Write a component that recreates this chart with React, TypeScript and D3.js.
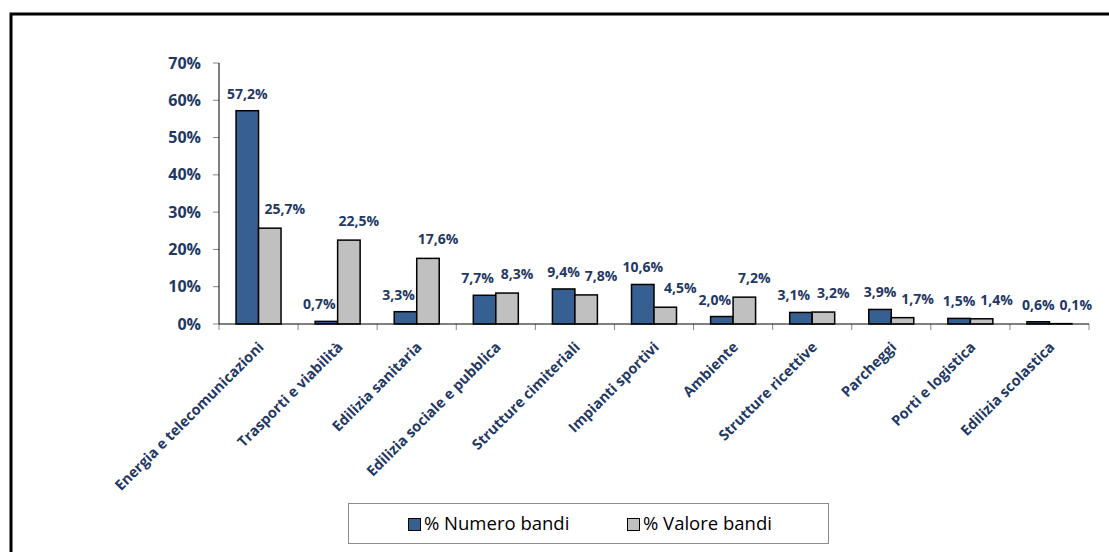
import React from "react";
import * as d3 from "d3";

const categories = [
  "Energia e telecomunicazioni",
  "Trasporti e viabilità",
  "Edilizia sanitaria",
  "Edilizia sociale e pubblica",
  "Strutture cimiteriali",
  "Impianti sportivi",
  "Ambiente",
  "Strutture ricettive",
  "Parcheggi",
  "Porti e logistica",
  "Edilizia scolastica",
];
const numeroBandi = [57.2, 0.7, 3.3, 7.7, 9.4, 10.6, 2.0, 3.1, 3.9, 1.5, 0.6];
const valoreBandi = [25.7, 22.5, 17.6, 8.3, 7.8, 4.5, 7.2, 3.2, 1.7, 1.4, 0.1];
const yTicks = [0, 10, 20, 30, 40, 50, 60, 70];
const seriesNames = ["% Numero bandi", "% Valore bandi"];

const W = 1109;
const H = 552;
const left = 219;
const right = 1089;
const top = 63;
const bottom = 324;
const BLUE = "#376092";
const GRAY = "#C0C0C0";
const NAVY = "#1F3864";
const FONT = "'Open Sans', sans-serif";

const fmt = (v: number) => v.toFixed(1).replace(".", ",") + "%";

export default function App() {
  const y = d3.scaleLinear().domain([0, 70]).range([bottom, top]);
  const x0 = d3.scaleBand<string>().domain(categories).range([left, right]).padding(0);
  const x1 = d3
    .scaleBand<string>()
    .domain(["num", "val"])
    .range([0, x0.bandwidth()])
    .paddingInner(0)
    .paddingOuter(0.758);
  const bw = x1.bandwidth();

  return (
    <svg
      width={W}
      height={H}
      style={{ position: "absolute", left: 0, top: 0, background: "#fff" }}
    >
      <rect x={0} y={0} width={W} height={H} fill="#fff" />
      <rect x={11} y={14} width={W + 20} height={H + 20} fill="none" stroke="#000" strokeWidth={3} />

      {/* y axis ticks & labels */}
      {yTicks.map((t) => (
        <g key={t}>
          <line x1={left - 6} x2={left} y1={y(t)} y2={y(t)} stroke="#868686" strokeWidth={1} />
          <text
            x={201}
            y={y(t) + 5.5}
            textAnchor="end"
            fontFamily={FONT}
            fontWeight={700}
            fontSize={16}
            fill={NAVY}
          >
            {t}%
          </text>
        </g>
      ))}

      {/* x ticks */}
      {d3.range(categories.length + 1).map((i) => {
        const xx = left + i * x0.step();
        return <line key={i} x1={xx} x2={xx} y1={bottom} y2={bottom + 6} stroke="#868686" strokeWidth={1} />;
      })}

      {/* bars */}
      {categories.map((c, i) => {
        const gx = x0(c)!;
        const vals = [numeroBandi[i], valoreBandi[i]];
        const blueTaller = vals[0] > vals[1];
        return (
          <g key={c}>
            {vals.map((v, j) => {
              const bx = gx + x1(j === 0 ? "num" : "val")!;
              const cx = bx + bw / 2;
              const dx = j === 0 ? (blueTaller ? 0 : -7) : blueTaller ? 15 : 10;
              const gap = j === 0 ? 12 : 14;
              return (
                <g key={j}>
                  <rect
                    x={bx}
                    y={y(v)}
                    width={bw}
                    height={bottom - y(v)}
                    fill={j === 0 ? BLUE : GRAY}
                    stroke="#000"
                    strokeWidth={1.5}
                  />
                  <text
                    x={cx + dx}
                    y={y(v) - gap}
                    textAnchor="middle"
                    fontFamily={FONT}
                    fontWeight={700}
                    fontSize={14}
                    fill={NAVY}
                  >
                    {fmt(v)}
                  </text>
                </g>
              );
            })}
            <text
              transform={`translate(${gx + x0.bandwidth() / 2 + 6},${348}) rotate(-45)`}
              textAnchor="end"
              fontFamily={FONT}
              fontWeight={700}
              fontSize={14.5}
              fill={NAVY}
            >
              {c}
            </text>
          </g>
        );
      })}

      {/* axes lines */}
      <line x1={left} x2={left} y1={top} y2={bottom} stroke="#000" strokeWidth={1} />
      <line x1={left} x2={right} y1={bottom} y2={bottom} stroke="#000" strokeWidth={1} />

      {/* legend */}
      <rect x={348.5} y={503.5} width={480} height={40} fill="#fff" stroke="#8c8c8c" strokeWidth={1} />
      {seriesNames.map((s, i) => {
        const lx = i === 0 ? 408 : 627;
        return (
          <g key={s}>
            <rect x={lx + 0.5} y={518.5} width={12} height={12} fill={i === 0 ? BLUE : GRAY} stroke="#000" strokeWidth={1} />
            <text x={lx + 16} y={529.5} fontFamily={FONT} fontSize={18.5} fill="#000">
              {s}
            </text>
          </g>
        );
      })}
    </svg>
  );
}
